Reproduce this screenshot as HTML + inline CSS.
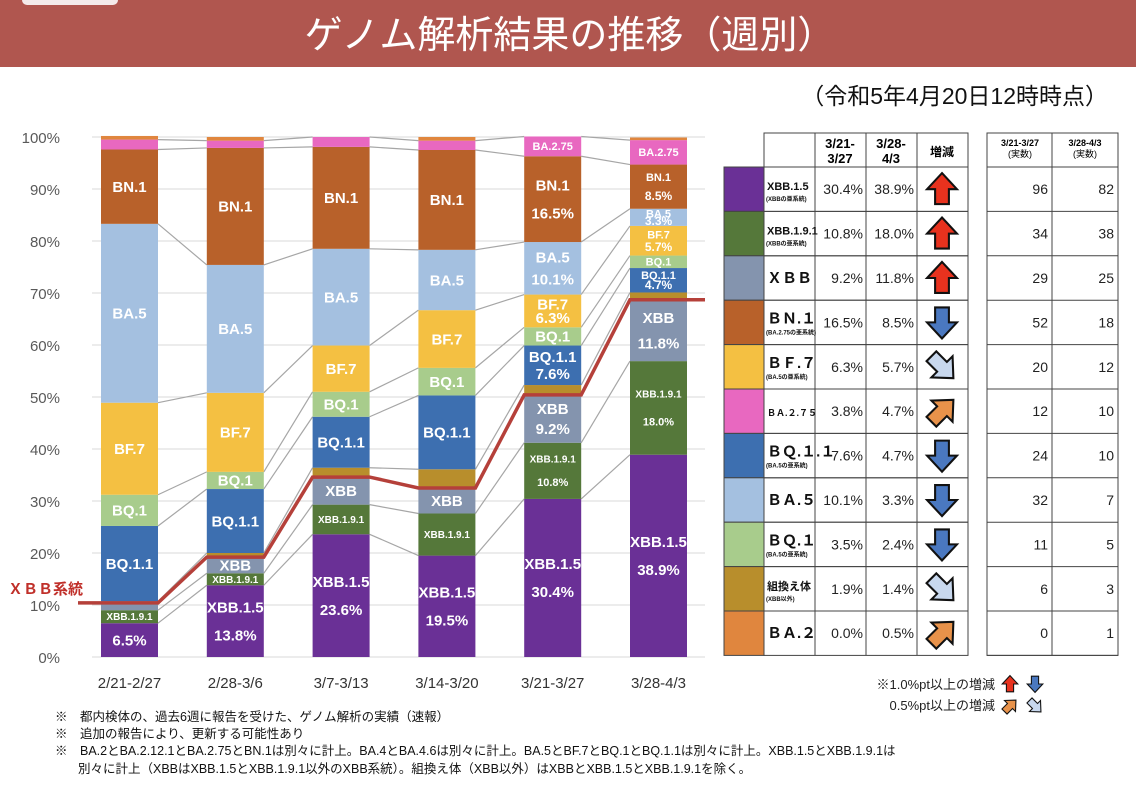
<!DOCTYPE html>
<html><head><meta charset="utf-8"><style>
body{margin:0;background:#fff;width:1136px;height:792px;overflow:hidden;font-family:"Liberation Sans","Noto Sans CJK JP",sans-serif}
svg text{font-family:"Liberation Sans","Noto Sans CJK JP",sans-serif}
</style></head><body>
<svg id="s" width="1136" height="792" viewBox="0 0 1136 792" xmlns="http://www.w3.org/2000/svg">
<rect x="0" y="0" width="1136" height="67" fill="#b0564f"/>
<rect x="22" y="-8" width="96" height="13" rx="5" fill="#f4eaea"/>
<text x="570" y="48" font-size="38" fill="#fff" text-anchor="middle">ゲノム解析結果の推移（週別）</text>
<text x="1108" y="104" font-size="23" fill="#111" text-anchor="end">（令和5年4月20日12時時点）</text>
<g id="chart"></g>
<g id="tbl"></g>
<g>
<text x="995" y="689" font-size="13" text-anchor="end" fill="#222">※1.0%pt以上の増減</text>
<text x="995" y="710" font-size="13" text-anchor="end" fill="#222">0.5%pt以上の増減</text>
<g id="legarrows"></g>
</g>
<g font-size="12.5" fill="#111">
<text x="55" y="721">※　都内検体の、過去6週に報告を受けた、ゲノム解析の実績（速報）</text>
<text x="55" y="738">※　追加の報告により、更新する可能性あり</text>
<text x="55" y="755">※　BA.2とBA.2.12.1とBA.2.75とBN.1は別々に計上。BA.4とBA.4.6は別々に計上。BA.5とBF.7とBQ.1とBQ.1.1は別々に計上。XBB.1.5とXBB.1.9.1は</text>
<text x="78" y="773">別々に計上（XBBはXBB.1.5とXBB.1.9.1以外のXBB系統）。組換え体（XBB以外）はXBBとXBB.1.5とXBB.1.9.1を除く。</text>
</g>
</svg>
<script>
const weeks=['2/21-2/27','2/28-3/6','3/7-3/13','3/14-3/20','3/21-3/27','3/28-4/3'];
const seriesNames=['XBB.1.5','XBB.1.9.1','XBB','組換え体','BQ.1.1','BQ.1','BF.7','BA.5','BN.1','BA.2.75','BA.2'];
const vXBB15=[6.5,13.8,23.6,19.5,30.4,38.9];
const vXBB191=[2.5,2.3,5.7,8.1,10.8,18.0];
const vXBB=[1.4,3.1,5.3,4.9,9.2,11.8];
const vRecomb=[0.3,0.8,1.8,3.6,1.9,1.4];
const vBQ11=[14.5,12.3,9.8,14.2,7.6,4.7];
const vBQ1=[6.0,3.3,4.8,5.3,3.5,2.4];
const vBF7=[17.7,15.2,8.9,11.1,6.3,5.7];
const vBA5=[34.4,24.6,18.6,11.6,10.1,3.3];
const vBN1=[14.3,22.5,19.6,19.2,16.5,8.5];
const vBA275=[1.9,1.4,1.9,1.8,3.8,4.7];
const vBA2=[0.7,0.7,0.0,0.7,0.0,0.5];
const yTicks=[0,10,20,30,40,50,60,70,80,90,100];
const lblXBB15=[['6.5%'],['XBB.1.5','13.8%'],['XBB.1.5','23.6%'],['XBB.1.5','19.5%'],['XBB.1.5','30.4%'],['XBB.1.5','38.9%']];
const lblXBB191=[['XBB.1.9.1'],['XBB.1.9.1'],['XBB.1.9.1'],['XBB.1.9.1'],['XBB.1.9.1','10.8%'],['XBB.1.9.1','18.0%']];
const lblXBB=[[],['XBB'],['XBB'],['XBB'],['XBB','9.2%'],['XBB','11.8%']];
const lblBQ11=[['BQ.1.1'],['BQ.1.1'],['BQ.1.1'],['BQ.1.1'],['BQ.1.1','7.6%'],['BQ.1.1','4.7%']];
const lblBQ1=[['BQ.1'],['BQ.1'],['BQ.1'],['BQ.1'],['BQ.1'],['BQ.1']];
const lblBF7=[['BF.7'],['BF.7'],['BF.7'],['BF.7'],['BF.7','6.3%'],['BF.7','5.7%']];
const lblBA5=[['BA.5'],['BA.5'],['BA.5'],['BA.5'],['BA.5','10.1%'],['BA.5','3.3%']];
const lblBN1=[['BN.1'],['BN.1'],['BN.1'],['BN.1'],['BN.1','16.5%'],['BN.1','8.5%']];
const lblBA275=[[],[],[],[],['BA.2.75'],['BA.2.75']];
const tblPct1=['30.4%','10.8%','9.2%','16.5%','6.3%','3.8%','7.6%','10.1%','3.5%','1.9%','0.0%'];
const tblPct2=['38.9%','18.0%','11.8%','8.5%','5.7%','4.7%','4.7%','3.3%','2.4%','1.4%','0.5%'];
const tblCnt1=[96,34,29,52,20,12,24,32,11,6,0];
const tblCnt2=[82,38,25,18,12,10,10,7,5,3,1];

const NS='http://www.w3.org/2000/svg';
function mk(tag,attrs,parent,txt){const e=document.createElementNS(NS,tag);for(const k in attrs)e.setAttribute(k,attrs[k]);if(txt!==undefined)e.textContent=txt;parent.appendChild(e);return e;}
const y=v=>657-v*5.2;
const xc=i=>129.5+i*105.8;
const BW=57;
const chart=document.getElementById('chart');
const vals=[vXBB15,vXBB191,vXBB,vRecomb,vBQ11,vBQ1,vBF7,vBA5,vBN1,vBA275,vBA2];
const lbls=[lblXBB15,lblXBB191,lblXBB,null,lblBQ11,lblBQ1,lblBF7,lblBA5,lblBN1,lblBA275,null];
const colors=['#6a3096','#55783a','#8494ae','#b88e2c','#3d6fb0','#a8cc8c','#f4c042','#a4c0e0','#b8612a','#e868c0','#e0863e'];
yTicks.forEach(t=>{
 const g=mk('line',{x1:92,x2:705,y1:y(t),y2:y(t),stroke:'#d9d9d9','stroke-width':1},chart);
 
 const tx=mk('text',{x:60,y:y(t)+6,'font-size':15,fill:'#595959','text-anchor':'end'},chart,t+'%');
 
});
weeks.forEach((w,i)=>{const t=mk('text',{x:xc(i),y:688,'font-size':15,fill:'#333','text-anchor':'middle'},chart,w);
 });
const cum=weeks.map((w,i)=>{let s=0;return vals.map(a=>{const b=s;s+=a[i];return [b,s];});});
for(let i=0;i<weeks.length-1;i++){
 for(let k=0;k<vals.length-1;k++){
  const l=mk('line',{x1:xc(i)+BW/2,y1:y(cum[i][k][1]),x2:xc(i+1)-BW/2,y2:y(cum[i+1][k][1]),stroke:'#a6a6a6','stroke-width':1.2},chart);
  
 }
}
weeks.forEach((w,i)=>{
 vals.forEach((a,k)=>{
  const [b,t]=cum[i][k];if(a[i]<=0)return;
  const r=mk('rect',{x:xc(i)-BW/2,y:y(t),width:BW,height:y(b)-y(t),fill:colors[k]},chart);
  
 });
});
const xbbTot=weeks.map((w,i)=>vXBB15[i]+vXBB191[i]+vXBB[i]);
let pts=[[78,y(xbbTot[0])]];
xbbTot.forEach((v,i)=>{pts.push([xc(i)-BW/2,y(v)]);pts.push([xc(i)+BW/2,y(v)]);});
pts.push([705,y(xbbTot[5])]);
const pl=mk('polyline',{points:pts.map(p=>p.join(',')).join(' '),fill:'none',stroke:'#b5403a','stroke-width':3.5},chart);

const xl=mk('text',{x:8,y:y(xbbTot[0])-9,'font-size':15,fill:'#c0302a','font-weight':'bold'},chart,'ＸＢＢ系統');

weeks.forEach((w,i)=>{
 lbls.forEach((L,k)=>{
  if(!L)return;const lines=L[i];if(!lines||!lines.length)return;
  const [b,t]=cum[i][k];const h=y(b)-y(t);const mid=(y(b)+y(t))/2;
  const small=lines[0].startsWith('XBB.1.9')||h<14||lines[0]==='BA.2.75'||(i===5&&k>=4);
  const fs=small?(lines[0].startsWith('XBB.1.9')?10:11):15;
  const gap=lines.length>1?Math.min(h*0.42,28):0;
  lines.forEach((s,j)=>{
   const yy=mid+(j-(lines.length-1)/2)*gap+fs*0.35;
   const tx=mk('text',{x:xc(i),y:yy,'font-size':(j>0&&small?Math.min(fs+1,12):fs),fill:'#fff','text-anchor':'middle','font-weight':'bold'},chart,s);
   
  });
 });
});
const arrowShape='M0,-14 L13,0 L6,0 L6,13 L-6,13 L-6,0 L-13,0 Z';
function arrow(parent,cx,cy,rot,fill,sc){return mk('path',{d:arrowShape,fill:fill,stroke:'#111','stroke-width':1.8,transform:`translate(${cx},${cy}) rotate(${rot}) scale(${sc||1})`},parent);}
const tbl=document.getElementById('tbl');
const rowNames=[['XBB.1.5','(XBBの亜系統)'],['XBB.1.9.1','(XBBの亜系統)'],['ＸＢＢ'],['ＢＮ.１','(BA.2.75の亜系統)'],['ＢＦ.７','(BA.5の亜系統)'],['ＢＡ.２.７５'],['ＢＱ.１.１','(BA.5の亜系統)'],['ＢＡ.５'],['ＢＱ.１','(BA.5の亜系統)'],['組換え体','(XBB以外)'],['ＢＡ.２']];
const rowColor=['#6a3096','#55783a','#8494ae','#b8612a','#f4c042','#e868c0','#3d6fb0','#a4c0e0','#a8cc8c','#b88e2c','#e0863e'];
const arrowRot=[0,0,0,180,135,45,180,180,180,135,45];
const arrowCol=['#e8321e','#e8321e','#e8321e','#4a78c0','#c8d8ee','#e8924a','#4a78c0','#4a78c0','#4a78c0','#c8d8ee','#e8924a'];
const top0=167,RH=44.4;
mk('rect',{x:764,y:133,width:204,height:34,fill:'none',stroke:'#444','stroke-width':1},tbl);
[815,866,917].forEach(x=>mk('line',{x1:x,x2:x,y1:133,y2:167,stroke:'#444'},tbl));
mk('text',{x:840,y:148,'font-size':13,'text-anchor':'middle','font-weight':'bold'},tbl,'3/21-');
mk('text',{x:840,y:163,'font-size':13,'text-anchor':'middle','font-weight':'bold'},tbl,'3/27');
mk('text',{x:891,y:148,'font-size':13,'text-anchor':'middle','font-weight':'bold'},tbl,'3/28-');
mk('text',{x:891,y:163,'font-size':13,'text-anchor':'middle','font-weight':'bold'},tbl,'4/3');
mk('text',{x:942,y:156,'font-size':12,'text-anchor':'middle','font-weight':'bold'},tbl,'増減');
mk('rect',{x:987,y:133,width:131,height:RH*11+34,fill:'none',stroke:'#444'},tbl);
mk('line',{x1:1052,x2:1052,y1:133,y2:top0+RH*11,stroke:'#444'},tbl);
mk('text',{x:1020,y:146,'font-size':9,'text-anchor':'middle','font-weight':'bold'},tbl,'3/21-3/27');
mk('text',{x:1020,y:157,'font-size':9,'text-anchor':'middle'},tbl,'(実数)');
mk('text',{x:1085,y:146,'font-size':9,'text-anchor':'middle','font-weight':'bold'},tbl,'3/28-4/3');
mk('text',{x:1085,y:157,'font-size':9,'text-anchor':'middle'},tbl,'(実数)');
mk('line',{x1:987,x2:1118,y1:167,y2:167,stroke:'#444'},tbl);
rowNames.forEach((nm,r)=>{
 const ty=top0+r*RH,cy=ty+RH/2;
 const sw=mk('rect',{x:724,y:ty,width:40,height:RH,fill:rowColor[r],stroke:'#444','stroke-width':1},tbl);
 
 mk('rect',{x:764,y:ty,width:204,height:RH,fill:'none',stroke:'#444','stroke-width':1},tbl);
 [815,866,917].forEach(x=>mk('line',{x1:x,x2:x,y1:ty,y2:ty+RH,stroke:'#444'},tbl));
 const fs=nm[0].length>6&&nm[0][0]==='Ｂ'?9:(nm[0].startsWith('XBB')||nm[0]==='組換え体'?11:15);
 const n=mk('text',{x:767,y:cy+(nm.length>1?1:5),'font-size':fs,'font-weight':'bold',fill:'#111'},tbl,nm[0]);
 
 if(nm.length>1)mk('text',{x:766,y:cy+12,'font-size':6,'font-weight':'bold',fill:'#111'},tbl,nm[1]);
 mk('text',{x:863,y:cy+5,'font-size':14,'text-anchor':'end',fill:'#222'},tbl,tblPct1[r]);
 mk('text',{x:914,y:cy+5,'font-size':14,'text-anchor':'end',fill:'#222'},tbl,tblPct2[r]);
 const a=arrow(tbl,942,cy,arrowRot[r],arrowCol[r],1.15);
 
 mk('line',{x1:987,x2:1118,y1:ty+RH,y2:ty+RH,stroke:'#444'},tbl);
 mk('text',{x:1048,y:cy+5,'font-size':14,'text-anchor':'end',fill:'#222'},tbl,String(tblCnt1[r]));
 mk('text',{x:1114,y:cy+5,'font-size':14,'text-anchor':'end',fill:'#222'},tbl,String(tblCnt2[r]));
});
const la=document.getElementById('legarrows');
arrow(la,1010,684,0,'#e8321e',0.6);arrow(la,1035,684,180,'#4a78c0',0.6);
arrow(la,1010,706,45,'#e8924a',0.6);arrow(la,1035,706,135,'#c8d8ee',0.6);
</script>
</body></html>
